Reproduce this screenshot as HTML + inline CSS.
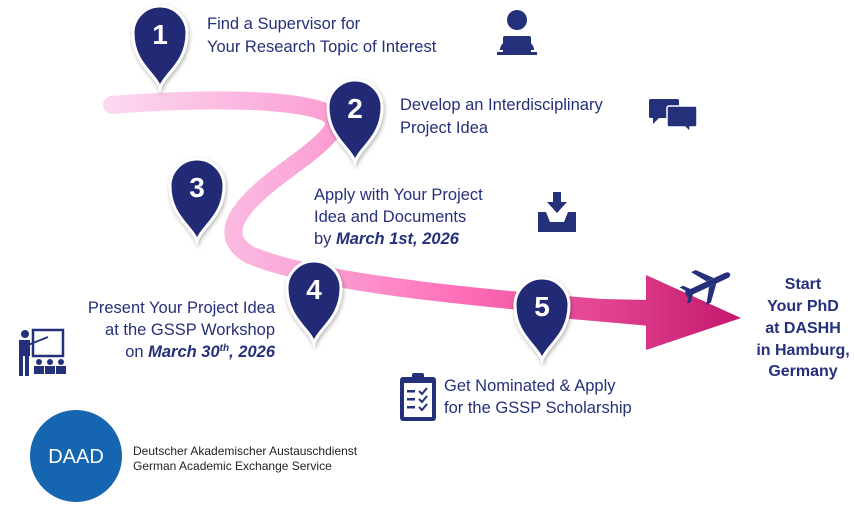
<!DOCTYPE html>
<html><head><meta charset="utf-8"><style>
html,body{margin:0;padding:0;background:#fff;width:854px;height:510px;overflow:hidden}
svg text{font-family:"Liberation Sans",sans-serif;fill:#25307a}
</style></head><body>
<svg width="854" height="510" viewBox="0 0 854 510" xmlns="http://www.w3.org/2000/svg">
<defs>
<linearGradient id="g" x1="110" y1="0" x2="740" y2="0" gradientUnits="userSpaceOnUse">
<stop offset="0" stop-color="#fcd8f0"/><stop offset="0.3" stop-color="#fba8d8"/>
<stop offset="0.55" stop-color="#ff70b8"/><stop offset="1" stop-color="#c4186c"/>
</linearGradient>
<filter id="sh" x="-30%" y="-30%" width="160%" height="160%"><feDropShadow dx="1" dy="2" stdDeviation="2" flood-opacity="0.3"/></filter>
<path id="pin" d="M0,55 C-5,40 -27,30 -27,0 A27,27 0 1 1 27,0 C27,30 5,40 0,55 Z" fill="#242a75" stroke="#fff" stroke-width="3"/>
</defs>
<path d="M112,105 C200,98 290,98 325,112 C350,125 320,145 280,175 C240,205 215,235 250,255 C320,285 500,300 650,312" fill="none" stroke="url(#g)" stroke-width="18" stroke-linecap="round"/>
<path d="M560,298 L650,300 L650,326 L560,318 Z" fill="url(#g)"/>
<polygon points="646,275 741,318 646,350" fill="url(#g)"/>
<g filter="url(#sh)">
<use href="#pin" x="160" y="33"/>
<use href="#pin" x="355" y="107"/>
<use href="#pin" x="197" y="186"/>
<use href="#pin" x="314" y="288"/>
<use href="#pin" x="542" y="305"/>
</g>
<g font-size="28" font-weight="bold" text-anchor="middle">
<text x="160" y="44" style="fill:#fff">1</text>
<text x="355" y="118" style="fill:#fff">2</text>
<text x="197" y="197" style="fill:#fff">3</text>
<text x="314" y="299" style="fill:#fff">4</text>
<text x="542" y="316" style="fill:#fff">5</text>
</g>
<g font-size="16.5">
<text x="207" y="29">Find a Supervisor for</text>
<text x="207" y="52">Your Research Topic of Interest</text>
<text x="400" y="110">Develop an Interdisciplinary</text>
<text x="400" y="133">Project Idea</text>
<text x="314" y="200">Apply with Your Project</text>
<text x="314" y="222">Idea and Documents</text>
<text x="314" y="244">by <tspan font-weight="bold" font-style="italic">March 1st, 2026</tspan></text>
<text x="275" y="313" text-anchor="end">Present Your Project Idea</text>
<text x="275" y="335" text-anchor="end">at the GSSP Workshop</text>
<text x="275" y="357" text-anchor="end">on <tspan font-weight="bold" font-style="italic">March 30<tspan font-size="10" dy="-6">th</tspan><tspan dy="6">, 2026</tspan></tspan></text>
<text x="444" y="391">Get Nominated &amp; Apply</text>
<text x="444" y="413">for the GSSP Scholarship</text>
</g>
<g font-size="16" font-weight="bold" text-anchor="middle">
<text x="803" y="289">Start</text>
<text x="803" y="311">Your PhD</text>
<text x="803" y="333">at DASHH</text>
<text x="803" y="355">in Hamburg,</text>
<text x="803" y="376">Germany</text>
</g>
<g fill="#25307a">
<circle cx="517" cy="20" r="10"/><path d="M500,50 C500,35 534,35 534,50 Z"/>
<rect x="503" y="36" width="28" height="18" rx="2"/><rect x="497" y="52" width="40" height="3"/>
<path d="M651,99 h26 a2,2 0 0 1 2,2 v17 h-20 l-6,6 v-6 h-2 a2,2 0 0 1 -2,-2 v-15 a2,2 0 0 1 2,-2z"/>
<path d="M669,106 h26 a2,2 0 0 1 2,2 v17 a2,2 0 0 1 -2,2 h-5 v5 l-5,-5 h-16 a2,2 0 0 1 -2,-2 v-17 a2,2 0 0 1 2,-2z" stroke="#fff" stroke-width="1.5"/>
<path d="M538,212 h8 l4,10 h14 l4,-10 h8 v20 h-38z"/>
<path d="M553,192 h8 v10 h6 l-10,11 l-10,-11 h6z"/>
<g transform="translate(706,285) rotate(-25)"><path d="M-22,-3 L22,-3 C28,-3 28,3 22,3 L-22,3 Z"/><path d="M2,-3 L-8,-18 L-3,-18 L10,-3 Z"/><path d="M2,3 L-8,18 L-3,18 L10,3 Z"/><path d="M-20,-2 L-25,-9 L-21,-9 L-15,-2Z"/><path d="M-20,2 L-25,9 L-21,9 L-15,2Z"/></g>
<rect x="400" y="377" width="36" height="44" rx="3"/><rect x="404" y="383" width="28" height="34" fill="#fff"/>
<rect x="412" y="373" width="12" height="8" rx="2"/>
<rect x="407" y="390" width="8" height="2.5"/><rect x="407" y="398" width="8" height="2.5"/><rect x="407" y="406" width="8" height="2.5"/>
<path d="M419,391 l3,3 l5,-6" stroke="#25307a" stroke-width="2" fill="none"/><path d="M419,399 l3,3 l5,-6" stroke="#25307a" stroke-width="2" fill="none"/><path d="M419,407 l3,3 l5,-6" stroke="#25307a" stroke-width="2" fill="none"/>
<rect x="33" y="330" width="30" height="26" fill="none" stroke="#25307a" stroke-width="2.5"/>
<circle cx="25" cy="334" r="4"/><rect x="19" y="340" width="11" height="16"/><rect x="19" y="356" width="4" height="20"/><rect x="25" y="356" width="4" height="20"/>
<path d="M28,345 l20,-8" stroke="#25307a" stroke-width="2"/>
<circle cx="39" cy="362" r="3"/><circle cx="50" cy="362" r="3"/><circle cx="61" cy="362" r="3"/>
<rect x="34" y="366" width="10" height="8"/><rect x="45" y="366" width="10" height="8"/><rect x="56" y="366" width="10" height="8"/>
</g>
<circle cx="76" cy="456" r="46" fill="#1565b0"/>
<text x="76" y="463" font-size="20" text-anchor="middle" style="fill:#fff">DAAD</text>
<text x="133" y="455" font-size="12" style="fill:#222">Deutscher Akademischer Austauschdienst</text>
<text x="133" y="470" font-size="12" style="fill:#222">German Academic Exchange Service</text>
</svg>
</body></html>
